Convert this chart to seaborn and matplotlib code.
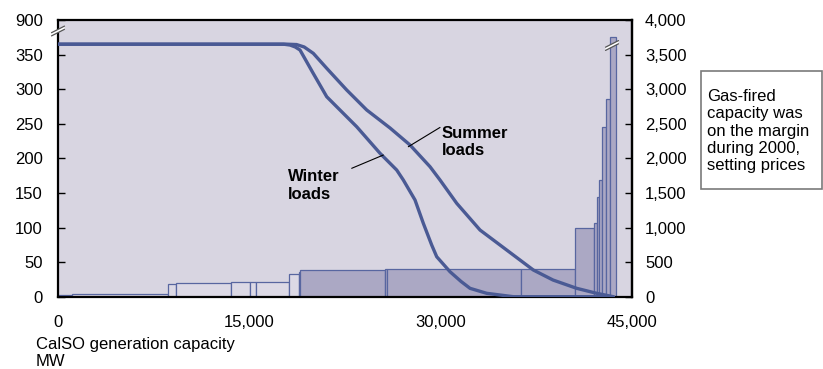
import matplotlib
matplotlib.use("Agg")
import matplotlib.pyplot as plt
import seaborn as sns
import numpy as np
import pandas as pd
from matplotlib.patches import Rectangle, Polygon
from matplotlib.ticker import FuncFormatter

# supply stack: block edges (MW) and price level of each block (left axis units)
bar_edges = [0, 1121, 8647, 9227, 13539, 15029, 15523, 18110, 18870, 18995, 25636,
             25769, 36298, 40531, 42044, 42279, 42436, 42648, 42938, 43275, 43722]
bar_heights = [3, 3.5, 19, 19.3, 20.8, 20.8, 20.8, 32.4, 35.3, 38.4,
               39.6, 39.6, 40.5, 98.9, 107, 143.7, 168.7, 245, 285.6, 376]

# load duration curves (days per year a load level was exceeded)
summer_mw = [0, 18000, 18700, 19300, 20015, 21066, 22634, 24202, 26029, 27597, 29165,
             29949, 31258, 33085, 34653, 36221, 37263, 38808, 40665, 42233, 43535]
summer_days = [365, 365, 364.5, 361, 351.8, 330.2, 298.8, 269.9, 243.9, 219.3, 187.9,
               168.7, 135.0, 96.4, 74.7, 53.0, 38.6, 24.1, 12.1, 4.9, 0]
winter_mw = [0, 17700, 18189, 18600, 18973, 19992, 21066, 21850, 23418, 25245, 26554,
             27072, 27989, 28640, 29297, 29690, 30733, 31600, 32301, 33608, 35698, 43535]
winter_days = [365, 365, 363.8, 361, 356.6, 323.4, 289.1, 274.6, 245.7, 207.3, 183.1,
               168.7, 139.8, 106.1, 74.7, 57.8, 36.1, 22, 12.1, 4.9, 0, 0]

left_ticks = [0, 50, 100, 150, 200, 250, 300, 350, 400]
left_labels = ["0", "50", "100", "150", "200", "250", "300", "350", "900"]
right_ticks = [0, 500, 1000, 1500, 2000, 2500, 3000, 3500, 4000]
x_ticks = [0, 15000, 30000, 45000]

sns.set_style("white")
plt.rcParams["font.family"] = ["Liberation Sans", "DejaVu Sans"]
plt.rcParams["font.size"] = 12
plt.rcParams["text.color"] = "black"
plt.rcParams["xtick.color"] = "black"
plt.rcParams["ytick.color"] = "black"
plt.rcParams["axes.labelcolor"] = "black"

BG = "#d8d5e1"
LINE = "#4a5a94"
EDGE = "#5866a0"
FILL = "#aba8c4"

W, H = 823, 369
fig = plt.figure(figsize=(W / 100, H / 100), dpi=100)
ax = fig.add_axes([58 / W, 1 - 296.7 / H, 574 / W, 276.7 / H])
ax.set_facecolor(BG)
ax.set_xlim(0, 45000)
ax.set_ylim(0, 400)

lefts = np.array(bar_edges[:-1])
widths = np.diff(bar_edges)
colors = []
for i, l in enumerate(lefts):
    if i == 0:
        colors.append("#6a6a72")
    elif l < 18990:
        colors.append("#dcd9e5")
    else:
        colors.append(FILL)
ax.bar(lefts, bar_heights, width=widths, align="edge", color=colors,
       edgecolor=EDGE, linewidth=0.9, zorder=2)

summer = pd.DataFrame({"mw": summer_mw, "days": summer_days})
winter = pd.DataFrame({"mw": winter_mw, "days": winter_days})
sns.lineplot(data=summer, x="mw", y="days", ax=ax, color=LINE, lw=2.4,
             sort=False, estimator=None, zorder=3)
sns.lineplot(data=winter, x="mw", y="days", ax=ax, color=LINE, lw=2.4,
             sort=False, estimator=None, zorder=3)
ax.set_xlabel("")
ax.set_ylabel("")

ax.set_xticks(x_ticks)
ax.set_xticklabels([f"{v:,}" for v in x_ticks])
ax.set_yticks(left_ticks)
ax.set_yticklabels(left_labels)
ax.tick_params(axis="x", direction="in", length=5, width=1, pad=13.5, labelsize=12)
ax.tick_params(axis="y", direction="in", length=5, width=1, pad=10.8, labelsize=12)
for s in ax.spines.values():
    s.set_color("black")
    s.set_linewidth(1.6)
    s.set_visible(True)

ax2 = ax.twinx()
ax2.set_ylim(0, 4000)
ax2.set_yticks(right_ticks)
ax2.yaxis.set_major_formatter(FuncFormatter(lambda v, p: f"{int(v):,}"))
ax2.tick_params(axis="y", direction="in", length=5, width=1, pad=9.4, labelsize=12)
for s in ax2.spines.values():
    s.set_visible(False)
ax2.spines["right"].set_visible(True)
ax2.spines["right"].set_color("black")
ax2.spines["right"].set_linewidth(1.6)

# curve labels
ax.text(30082, 223.6, "Summer\nloads", fontsize=12, fontweight="bold",
        ha="left", va="center", zorder=5)
ax.plot([29950, 27463], [244.7, 216.8], color="black", lw=0.8, zorder=5)
ax.text(18055, 160.7, "Winter\nloads", fontsize=12, fontweight="bold",
        ha="left", va="center", zorder=5)
ax.plot([23025, 25503], [185.6, 204.8], color="black", lw=0.8, zorder=5)


def fig_xy(px, py):
    return px / W, 1 - py / H


def break_mark(cx, cy):
    # small "//" axis-break symbol, centred at pixel (cx, cy)
    dx, dy, gap = 6.5, 3.3, 1.6
    a = [fig_xy(cx - dx, cy + dy - gap), fig_xy(cx + dx, cy - dy - gap),
         fig_xy(cx + dx, cy - dy + gap), fig_xy(cx - dx, cy + dy + gap)]
    fig.patches.append(Polygon(a, closed=True, transform=fig.transFigure,
                               facecolor="white", edgecolor="none", zorder=10))
    for o in (-gap, gap):
        p0 = fig_xy(cx - dx, cy + dy + o)
        p1 = fig_xy(cx + dx, cy - dy + o)
        fig.add_artist(plt.Line2D([p0[0], p1[0]], [p0[1], p1[1]],
                                  transform=fig.transFigure, color="#555555",
                                  lw=0.9, zorder=11))


break_mark(58, 31)
break_mark(612, 45.5)

fig.text(36 / W, 1 - 337 / H, "CalSO generation capacity\nMW", fontsize=12,
         ha="left", va="top", linespacing=1.15)

fig.patches.append(Rectangle(fig_xy(701, 189.3), 121 / W, 118.6 / H,
                             transform=fig.transFigure, facecolor="white",
                             edgecolor="#7a7a7a", lw=1.2, zorder=1))
fig.text(706.7 / W, 1 - 131 / H,
         "Gas-fired\ncapacity was\non the margin\nduring 2000,\nsetting prices",
         fontsize=12, ha="left", va="center", linespacing=1.2)

fig.savefig("out.png", dpi=100)
